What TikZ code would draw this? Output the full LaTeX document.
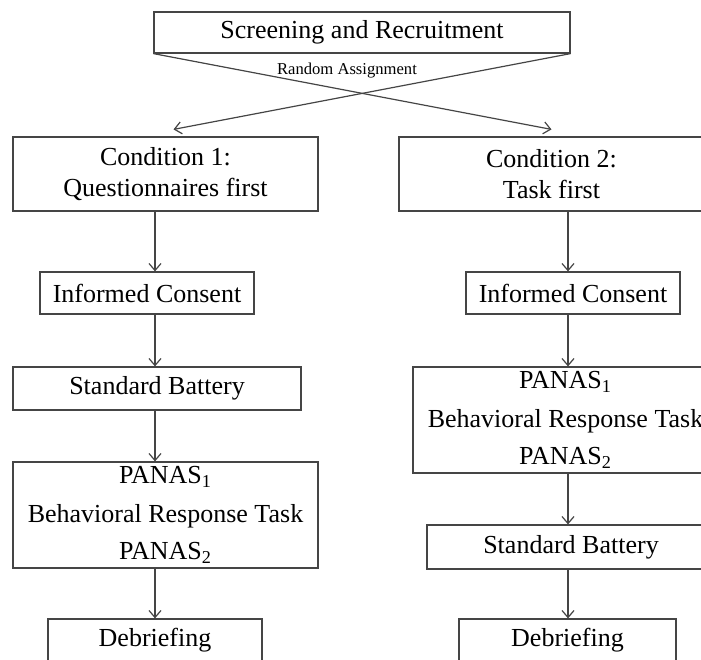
\documentclass[tikz,border=0pt]{standalone}
\usepackage{fontspec}
\setmainfont{Liberation Serif}
\usepackage{tikz}
\usetikzlibrary{positioning}
\usetikzlibrary{arrows.meta}
\definecolor{lineColor}{rgb}{0.27,0.27,0.27}

\begin{document}
\begin{tikzpicture}[x=0.5pt,y=-0.5pt]

            \tikzstyle{stageBox} = [draw=lineColor, line width=0.6pt, inner sep=0pt, align=center, font=\fontsize{13pt}{15.5pt}\selectfont];
            \tikzstyle{flowArrow} = [draw=lineColor, line width=0.6pt, -{Straight Barb[length=3.5pt,width=6pt]}];

            \useasboundingbox (0,0) rectangle (701,659);
            \clip (0,0) rectangle (701,659);

            \coordinate (colL) at (155,0);
            \coordinate (colR) at (568,0);

            \node[stageBox, minimum width=208pt, minimum height=20.5pt] (screen) at (362,32.5) {Screening and Recruitment};
            \node[font=\fontsize{8.3pt}{10pt}\selectfont] (assign) at (347,71) {Random Assignment};

            \node[stageBox, minimum width=152.5pt, minimum height=37pt] (cond1) at (165.5,174) {Condition 1:\\Questionnaires first};
            \node[stageBox, minimum width=152.5pt, minimum height=37pt] (cond2) at (551.5,174) {Condition 2:\\Task first};

            \node[stageBox, minimum width=107pt, minimum height=21pt] (consent1) at (147,293) {Informed Consent};
            \node[stageBox, minimum width=107pt, minimum height=21pt] (consent2) at (573,293) {Informed Consent};

            \node[stageBox, minimum width=144pt, minimum height=21.5pt] (battery1) at (157,388.5) {Standard Battery};
            \node[stageBox, minimum width=152.5pt, minimum height=53pt] (panas1) at (165.5,515) {PANAS\textsubscript{1}\\[4pt]Behavioral Response Task\\[3pt]PANAS\textsubscript{2}};
            \node[stageBox, minimum width=107pt, minimum height=21.5pt] (debrief1) at (155,640.5) {Debriefing};

            \node[stageBox, minimum width=152.5pt, minimum height=53pt] (panas2) at (565.5,420) {PANAS\textsubscript{1}\\[4pt]Behavioral Response Task\\[3pt]PANAS\textsubscript{2}};
            \node[stageBox, minimum width=144pt, minimum height=22pt] (battery2) at (571,547) {Standard Battery};
            \node[stageBox, minimum width=108.5pt, minimum height=21.5pt] (debrief2) at (567.5,640.5) {Debriefing};

            \draw[flowArrow] (screen.south west) -- ([yshift=3.5pt]cond2.north);
            \draw[flowArrow] (screen.south east) -- ([xshift=4pt,yshift=3.5pt]cond1.north);

            \draw[flowArrow] (cond1.south -| colL) -- (consent1.north -| colL);
            \draw[flowArrow] (consent1.south -| colL) -- (battery1.north -| colL);
            \draw[flowArrow] (battery1.south -| colL) -- (panas1.north -| colL);
            \draw[flowArrow] (panas1.south -| colL) -- (debrief1.north -| colL);

            \draw[flowArrow] (cond2.south -| colR) -- (consent2.north -| colR);
            \draw[flowArrow] (consent2.south -| colR) -- (panas2.north -| colR);
            \draw[flowArrow] (panas2.south -| colR) -- (battery2.north -| colR);
            \draw[flowArrow] (battery2.south -| colR) -- (debrief2.north -| colR);
          \end{tikzpicture}
\end{document}
